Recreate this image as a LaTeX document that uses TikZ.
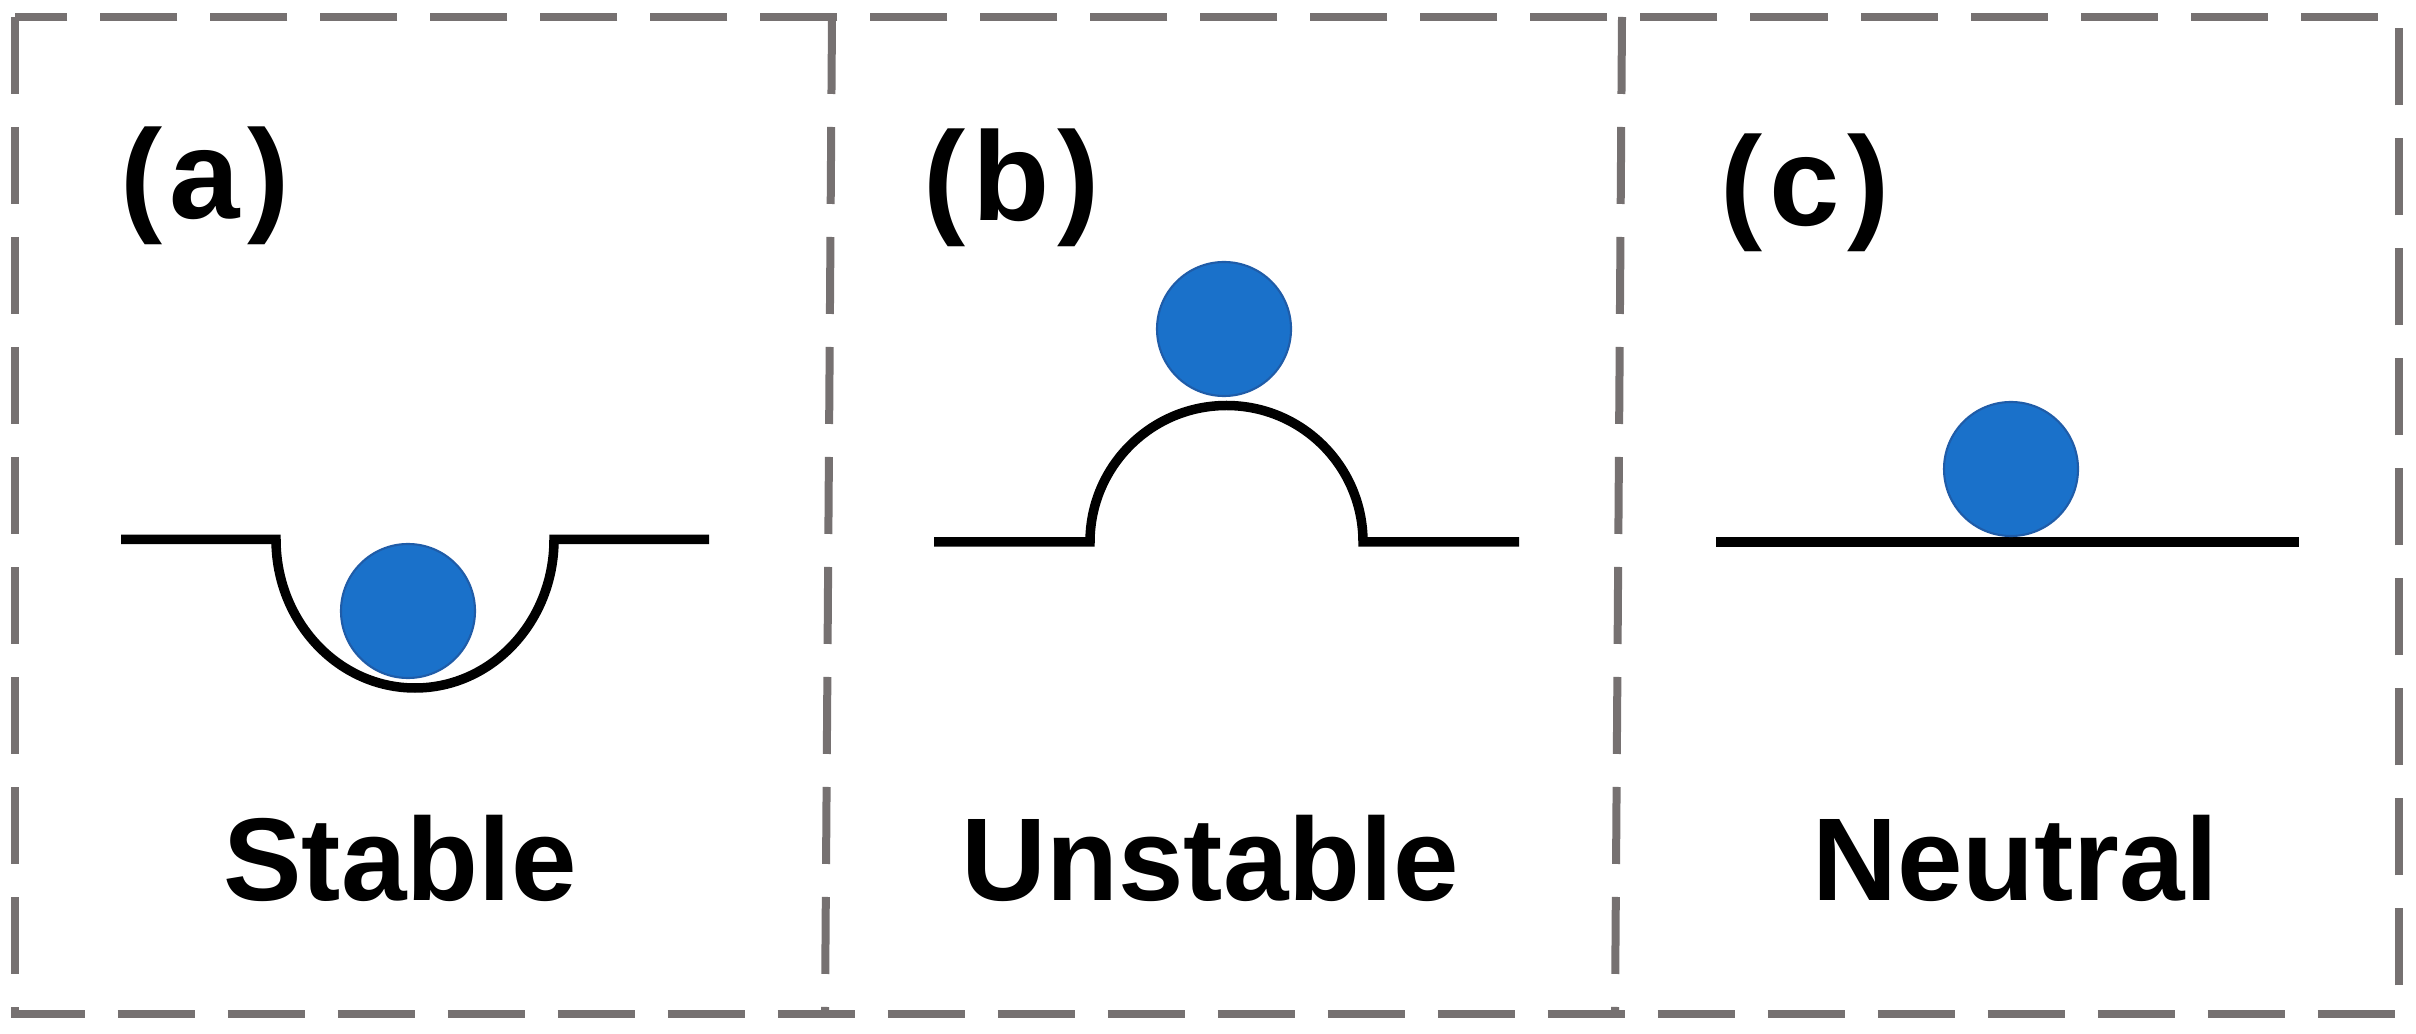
\documentclass[tikz,border=0pt]{standalone}
\usepackage{fontspec}
\setmainfont{Liberation Sans}
\usetikzlibrary{positioning}
\usepackage{xcolor}
\definecolor{framegray}{HTML}{767171}
\definecolor{ballblue}{HTML}{1A71CA}
\definecolor{balledge}{HTML}{1F5CA8}
\tikzset{
  frame/.style={draw=framegray, line width=0.08cm, dash pattern=on 0.77cm off 0.33cm},
  ground/.style={draw=black, line width=0.095cm},
  ball/.style={circle, fill=ballblue, draw=balledge, line width=0.6pt, minimum size=1.34cm, inner sep=0pt},
  tag/.style={font=\fontsize{36}{42}\selectfont\bfseries, inner sep=0pt, anchor=base west},
  title/.style={font=\fontsize{33.5}{40}\selectfont\bfseries, inner sep=0pt, anchor=base}
}
\newcommand{\paneltag}[1]{(\kern0.07cm#1\kern0.07cm)}

\begin{document}
\begin{tikzpicture}
  \useasboundingbox (0,0) rectangle (24.16,10.33);

  % dashed outline and the two dividers
  \draw[frame] (0.145,10.16) rectangle (23.99,0.19);
  \draw[frame] (8.32,10.16) -- (8.25,0.19);
  \draw[frame] (16.22,10.16) -- (16.15,0.19);

  % (a) ball in a bowl
  \node[tag] (taga) at (1.20,8.14) {\paneltag{a}};
  \draw[ground] (1.21,4.935) -- (2.76,4.935)
    arc[start angle=180, end angle=360, x radius=1.39, y radius=1.485] -- (7.09,4.935);
  \node[ball] (balla) at (4.08,4.22) {};
  \node[title] (stable) at (4.00,1.33) {Stable};

  % (b) ball on a hill
  \node[tag] (tagb) at (9.23,8.12) {\paneltag{b}};
  \draw[ground] (9.34,4.91) -- (10.90,4.91)
    arc[start angle=180, end angle=0, radius=1.365] -- (15.19,4.91);
  \node[ball] (ballb) at (12.24,7.04) {};
  \node[title] (unstable) at (12.10,1.33) {Unstable};

  % (c) ball on flat ground
  \node[tag] (tagc) at (17.20,8.07) {\paneltag{c}};
  \draw[ground] (17.16,4.91) -- (22.99,4.91);
  \node[ball] (ballc) at (20.11,5.64) {};
  \node[title] (neutral) at (20.15,1.33) {Neutral};
\end{tikzpicture}
\end{document}
